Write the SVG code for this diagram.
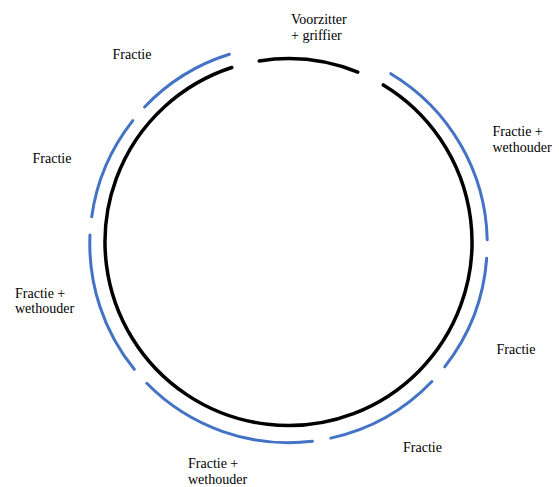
<svg xmlns="http://www.w3.org/2000/svg" width="559" height="487" viewBox="0 0 559 487">
<style>
.blk{fill:none;stroke:#000;stroke-width:3.5;stroke-linecap:round}
.blu{fill:none;stroke:#4472C4;stroke-width:3;stroke-linecap:round}
text{font-family:"Liberation Serif","Times New Roman",serif;font-size:14px;fill:#000}
</style>
<rect width="559" height="487" fill="#fff"/>
<g id="connectors">
<path id="ring-main" class="blk" d="M383.3 84.9 A183.5 183.5 0 1 1 231.8 67.5"/>
<path id="ring-top" class="blk" d="M259.2 60.9 A183.5 183.5 0 0 1 357.8 72.1"/>
</g>
<g id="seat-top">
<text x="291" y="24">Voorzitter</text>
<text x="291" y="40">+ griffier</text>
</g>
<g id="seat-fractie-1">
<path class="blu" d="M144.6 107 A198.7 198.7 0 0 1 229.4 54.3"/>
<text x="112.5" y="59">Fractie</text>
</g>
<g id="seat-fractie-2">
<path class="blu" d="M91.7 216.7 A198.7 198.7 0 0 1 132.8 120.6"/>
<text x="32.5" y="163">Fractie</text>
</g>
<g id="seat-fractie-wethouder-left">
<path class="blu" d="M134.3 369.3 A198.7 198.7 0 0 1 90 235"/>
<text x="15" y="297.5">Fractie +</text>
<text x="15" y="313">wethouder</text>
</g>
<g id="seat-fractie-wethouder-bottom">
<path class="blu" d="M312.4 441.3 A198.7 198.7 0 0 1 146.8 383.3"/>
<text x="188" y="468">Fractie +</text>
<text x="188" y="484">wethouder</text>
</g>
<g id="seat-fractie-3">
<path class="blu" d="M431.9 381.5 A198.7 198.7 0 0 1 330.8 438.1"/>
<text x="403" y="452">Fractie</text>
</g>
<g id="seat-fractie-4">
<path class="blu" d="M486.7 258.2 A198.7 198.7 0 0 1 444.7 366.9"/>
<text x="496.5" y="353.5">Fractie</text>
</g>
<g id="seat-fractie-wethouder-right">
<path class="blu" d="M390.8 73.7 A198.7 198.7 0 0 1 487.2 239.8"/>
<text x="492.5" y="136">Fractie +</text>
<text x="492.5" y="151.5">wethouder</text>
</g>
</svg>
